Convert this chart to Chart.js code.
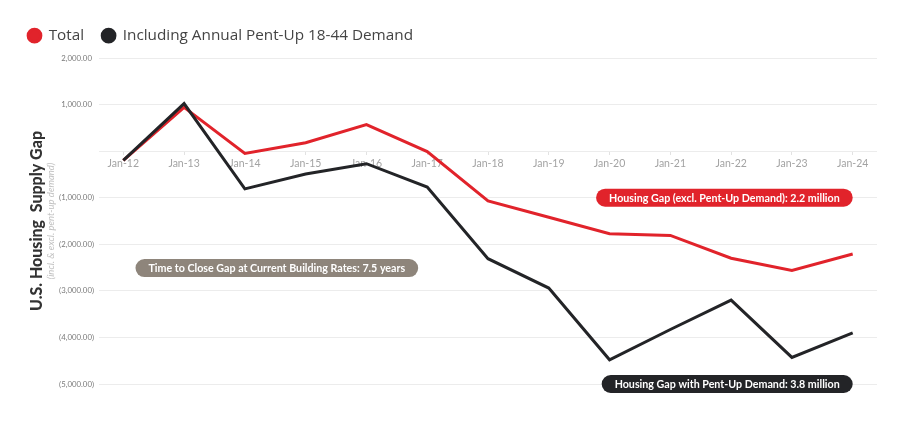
<!DOCTYPE html>
<html>
<head>
<meta charset="utf-8">
<script src="https://cdn.jsdelivr.net/npm/chart.js@4"></script>
<style>
  html, body { margin: 0; padding: 0; background: #fff; }
  #wrap { width: 912px; height: 438px; }
</style>
</head>
<body>
<div id="wrap"><canvas id="gapChart"></canvas></div>
<script>
// Categories and series (thousands of units)
const months = ['Jan-12', 'Jan-13', 'Jan-14', 'Jan-15', 'Jan-16', 'Jan-17', 'Jan-18',
                'Jan-19', 'Jan-20', 'Jan-21', 'Jan-22', 'Jan-23', 'Jan-24'];
const totalGap = [-200, 940, -50, 180, 570, -10, -1070, -1420, -1775, -1810, -2300, -2560, -2210];
const pentUpGap = [-200, 1020, -810, -490, -270, -770, -2310, -2940, -4480, -3830, -3200, -4430, -3900];

// Y tick labels
const yTickValues = [2000, 1000, 0, -1000, -2000, -3000, -4000, -5000];
const yTickLabels = ['2,000.00', '1,000.00', '', '(1,000.00)', '(2,000.00)', '(3,000.00)', '(4,000.00)', '(5,000.00)'];

// Callout labels, anchored in data units
const callouts = [
    { text: 'Housing Gap (excl. Pent-Up Demand): 2.2 million', x: 12, y: -1000, side: 'right', color: '#e1232b' },
    { text: 'Housing Gap with Pent-Up Demand: 3.8 million', x: 12, y: -5000, side: 'right', color: '#232427' },
    { text: 'Time to Close Gap at Current Building Rates: 7.5 years', x: 0.2, y: -2510, side: 'left', color: '#8e857b' }
];

const RED = '#e1232b';
const BLACK = '#232427';

// Draws the pill shaped callouts and the y axis sub title
const calloutPlugin = {
    id: 'callouts',
    beforeInit(chart) {
        const fit = chart.legend.fit;
        chart.legend.fit = function () {
            fit.call(this);
            this.height = 48;
        };
    },
    afterDatasetsDraw(chart) {
        const { ctx, scales } = chart;
        ctx.save();
        ctx.font = 'bold 10.7px Lato';
        ctx.textBaseline = 'middle';
        callouts.forEach(c => {
            const px = scales.x.getPixelForValue(c.x);
            const py = scales.y.getPixelForValue(c.y);
            const w = ctx.measureText(c.text).width + 26;
            const h = 18;
            const left = c.side === 'right' ? px - w : px;
            const r = h / 2;
            ctx.beginPath();
            ctx.moveTo(left + r, py - r);
            ctx.lineTo(left + w - r, py - r);
            ctx.arc(left + w - r, py, r, -Math.PI / 2, Math.PI / 2);
            ctx.lineTo(left + r, py + r);
            ctx.arc(left + r, py, r, Math.PI / 2, Math.PI * 1.5);
            ctx.closePath();
            ctx.fillStyle = c.color;
            ctx.fill();
            ctx.fillStyle = '#ffffff';
            ctx.textAlign = 'center';
            ctx.fillText(c.text, left + w / 2, py + 0.5);
        });
        ctx.restore();
    },
    afterDraw(chart) {
        const { ctx, chartArea } = chart;
        ctx.save();
        ctx.translate(51, (chartArea.top + chartArea.bottom) / 2);
        ctx.rotate(-Math.PI / 2);
        ctx.font = 'italic 9.5px Lato';
        ctx.fillStyle = '#c2c2c2';
        ctx.textAlign = 'center';
        ctx.textBaseline = 'middle';
        ctx.fillText('(incl. & excl. pent-up demand)', 0, 0);
        ctx.restore();
    }
};

const ctx = document.getElementById('gapChart').getContext('2d');

const gapChart = new Chart(ctx, {
    type: 'line',
    data: {
        datasets: [
            {
                label: 'Total',
                data: totalGap.map((v, i) => ({ x: i, y: v })),
                borderColor: RED,
                backgroundColor: RED,
                borderWidth: 3,
                pointRadius: 0,
                tension: 0,
                order: 1
            },
            {
                label: 'Including Annual Pent-Up 18-44 Demand',
                data: pentUpGap.map((v, i) => ({ x: i, y: v })),
                borderColor: BLACK,
                backgroundColor: BLACK,
                borderWidth: 3,
                pointRadius: 0,
                tension: 0,
                order: 0
            }
        ]
    },
    options: {
        responsive: true,
        maintainAspectRatio: false,
        animation: false,
        layout: {
            padding: { top: 10, left: 10, right: 35, bottom: 54 }
        },
        scales: {
            x: {
                type: 'linear',
                position: { y: 0 },
                min: -0.4,
                max: 12.4,
                border: { display: false },
                grid: {
                    drawOnChartArea: false,
                    drawTicks: true,
                    tickLength: 4,
                    color: '#e2e2e2'
                },
                ticks: {
                    stepSize: 1,
                    includeBounds: false,
                    autoSkip: false,
                    maxRotation: 0,
                    padding: 2,
                    color: '#a3a3a3',
                    font: { family: 'Lato', size: 10.5 },
                    callback: value => months[value] ?? ''
                }
            },
            y: {
                min: -5000,
                max: 2000,
                afterFit(scale) {
                    scale.width = 89;
                },
                border: { display: false },
                grid: {
                    color: '#ececec',
                    drawTicks: false
                },
                ticks: {
                    stepSize: 1000,
                    padding: 5,
                    crossAlign: 'center',
                    color: '#7a7a7a',
                    font: { family: 'Lato', size: 7.8 },
                    callback: value => {
                        const idx = yTickValues.indexOf(value);
                        return idx >= 0 ? yTickLabels[idx] : '';
                    }
                },
                title: {
                    display: true,
                    text: 'U.S. Housing  Supply Gap',
                    color: '#333333',
                    font: { family: 'Lato', size: 16, weight: 900 },
                    padding: { top: 17, bottom: 11 }
                }
            }
        },
        plugins: {
            legend: {
                display: true,
                position: 'top',
                align: 'start',
                labels: {
                    usePointStyle: true,
                    pointStyle: 'circle',
                    boxWidth: 13,
                    boxHeight: 9,
                    padding: 18,
                    color: '#444444',
                    font: { family: 'Open Sans', size: 15.3 },
                    sort: (a, b) => a.datasetIndex - b.datasetIndex
                }
            },
            tooltip: { enabled: false }
        }
    },
    plugins: [calloutPlugin]
});
</script>
</body>
</html>
